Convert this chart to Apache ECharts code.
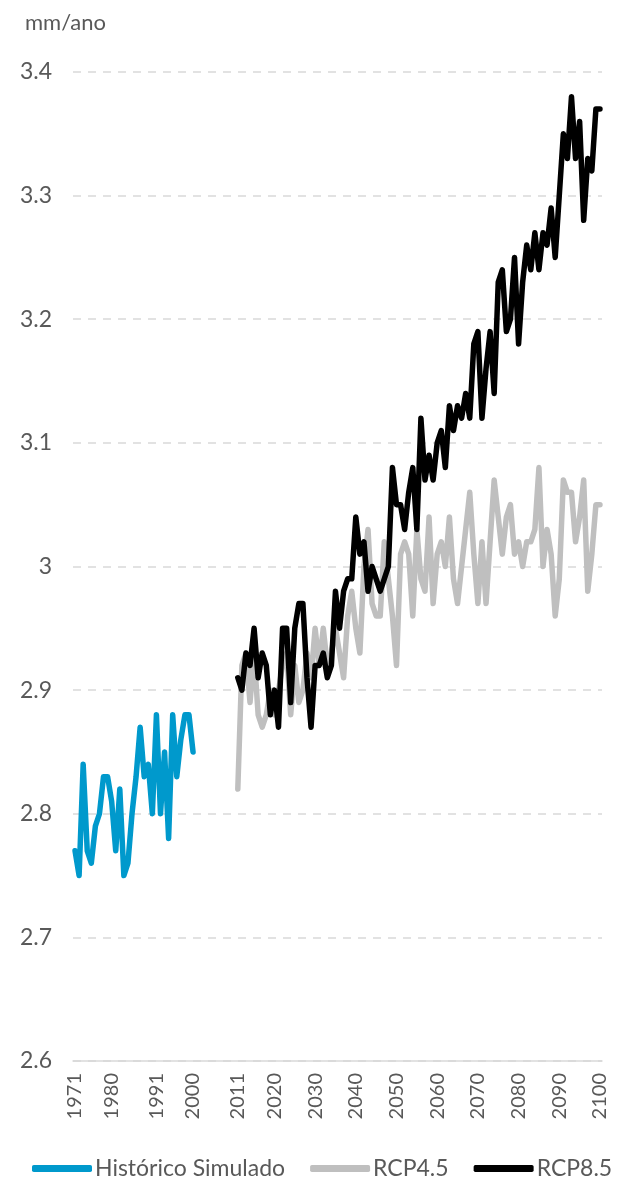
<!doctype html>
<html lang="pt">
<head>
<meta charset="UTF-8">
<title>mm/ano</title>
<script src="https://cdn.jsdelivr.net/npm/echarts@6/dist/echarts.min.js"></script>
<style>
  html, body { margin: 0; padding: 0; background: #fff; }
  #main { width: 622px; height: 1182px; }
</style>
</head>
<body>
<div id="main"></div>
<script>
// anos do eixo (1971-2100)
var years = [];
for (var y = 1971; y <= 2100; y++) years.push(String(y));

// rótulos visíveis do eixo x
var xTickLabels = ['1971', '1980', '1991', '2000', '2011', '2020', '2030', '2040',
    '2050', '2060', '2070', '2080', '2090', '2100'];

// Histórico Simulado, 1971-2000
var histStart = 1971;
var historico = [2.77, 2.75, 2.84, 2.77, 2.76, 2.79, 2.80, 2.83, 2.83, 2.81,
    2.77, 2.82, 2.75, 2.76, 2.80, 2.83, 2.87, 2.83, 2.84, 2.80,
    2.88, 2.80, 2.85, 2.78, 2.88, 2.83, 2.86, 2.88, 2.88, 2.85];

// cenários, 2011-2100
var rcpStart = 2011;
var rcp45 = [2.82, 2.92, 2.93, 2.89, 2.93, 2.88, 2.87, 2.88, 2.90, 2.88,
    2.90, 2.92, 2.93, 2.88, 2.92, 2.89, 2.90, 2.93, 2.91, 2.95,
    2.92, 2.95, 2.92, 2.93, 2.95, 2.93, 2.91, 2.96, 2.98, 2.95,
    2.93, 3.00, 3.03, 2.97, 2.96, 2.96, 3.02, 2.99, 2.96, 2.92,
    3.01, 3.02, 3.01, 2.96, 3.03, 2.99, 2.98, 3.04, 2.97, 3.01,
    3.02, 3.00, 3.04, 2.99, 2.97, 3.00, 3.03, 3.06, 3.01, 2.97,
    3.02, 2.97, 3.02, 3.07, 3.04, 3.01, 3.04, 3.05, 3.01, 3.02,
    3.00, 3.02, 3.02, 3.03, 3.08, 3.00, 3.03, 3.01, 2.96, 2.99,
    3.07, 3.06, 3.06, 3.02, 3.04, 3.07, 2.98, 3.01, 3.05, 3.05];
var rcp85 = [2.91, 2.90, 2.93, 2.92, 2.95, 2.91, 2.93, 2.92, 2.88, 2.90,
    2.87, 2.95, 2.95, 2.89, 2.95, 2.97, 2.97, 2.91, 2.87, 2.92,
    2.92, 2.93, 2.91, 2.92, 2.98, 2.95, 2.98, 2.99, 2.99, 3.04,
    3.01, 3.02, 2.98, 3.00, 2.99, 2.98, 2.99, 3.00, 3.08, 3.05,
    3.05, 3.03, 3.06, 3.08, 3.03, 3.12, 3.07, 3.09, 3.07, 3.10,
    3.11, 3.08, 3.13, 3.11, 3.13, 3.12, 3.14, 3.12, 3.18, 3.19,
    3.12, 3.16, 3.19, 3.14, 3.23, 3.24, 3.19, 3.20, 3.25, 3.18,
    3.23, 3.26, 3.24, 3.27, 3.24, 3.27, 3.26, 3.29, 3.25, 3.30,
    3.35, 3.33, 3.38, 3.33, 3.36, 3.28, 3.33, 3.32, 3.37, 3.37];

function pairs(start, values) {
    return values.map(function (v, i) { return [String(start + i), v]; });
}

var textColor = '#595959';
var chart = echarts.init(document.getElementById('main'));

var option = {
    animation: false,
    title: {
        text: 'mm/ano',
        left: 20,
        top: 7,
        textStyle: { color: textColor, fontSize: 22, fontWeight: 'normal', fontFamily: 'Lato' }
    },
    grid: { left: 73, right: 20, top: 72, bottom: 121 },
    legend: {
        top: 1157,
        left: 32,
        width: 588,
        padding: 0,
        itemWidth: 60,
        itemHeight: 7,
        itemGap: 25,
        icon: 'roundRect',
        textStyle: { color: textColor, fontSize: 23, fontFamily: 'Lato', padding: [0, 0, 0, -2] },
        data: ['Histórico Simulado', 'RCP4.5', 'RCP8.5']
    },
    xAxis: {
        type: 'category',
        data: years,
        boundaryGap: true,
        axisLine: { lineStyle: { color: '#d9d9d9', width: 1.5 } },
        axisTick: { show: false },
        axisLabel: {
            rotate: 90,
            margin: 12,
            color: textColor,
            fontSize: 20,
            fontFamily: 'Lato',
            interval: function (idx, val) { return xTickLabels.indexOf(val) >= 0; }
        },
        splitLine: { show: false }
    },
    yAxis: {
        type: 'value',
        min: 2.6,
        max: 3.4,
        interval: 0.1,
        axisLine: { show: false },
        axisTick: { show: false },
        axisLabel: { color: textColor, fontSize: 23, fontFamily: 'Lato', margin: 21 },
        splitLine: { lineStyle: { color: '#d9d9d9', type: [8, 7], width: 1.5 } }
    },
    series: [
        {
            name: 'Histórico Simulado',
            type: 'line',
            data: pairs(histStart, historico),
            symbol: 'none',
            itemStyle: { color: '#0099cc' },
            lineStyle: { color: '#0099cc', width: 5.5, cap: 'round', join: 'round' }
        },
        {
            name: 'RCP4.5',
            type: 'line',
            data: pairs(rcpStart, rcp45),
            symbol: 'none',
            itemStyle: { color: '#bfbfbf' },
            lineStyle: { color: '#bfbfbf', width: 5.5, cap: 'round', join: 'round' }
        },
        {
            name: 'RCP8.5',
            type: 'line',
            data: pairs(rcpStart, rcp85),
            symbol: 'none',
            itemStyle: { color: '#000000' },
            lineStyle: { color: '#000000', width: 5.5, cap: 'round', join: 'round' }
        }
    ]
};

chart.setOption(option);
</script>
</body>
</html>
